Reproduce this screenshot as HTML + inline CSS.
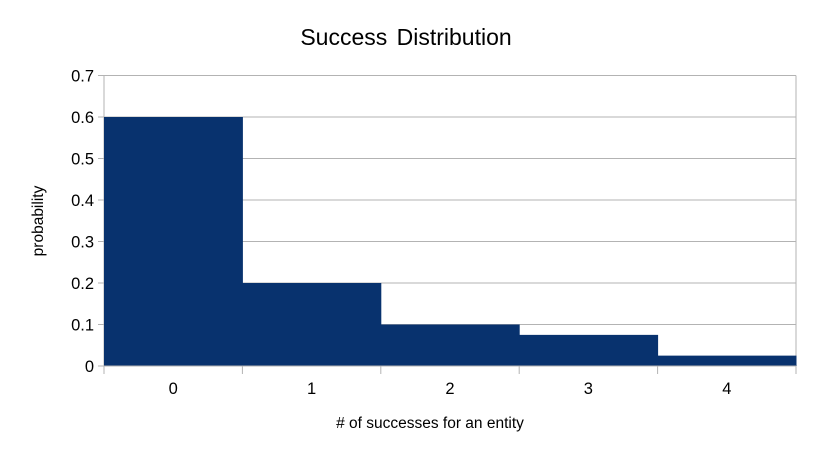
<!DOCTYPE html>
<html><head><meta charset="utf-8"><style>
body{margin:0;background:#fff;width:813px;height:457px;overflow:hidden;font-family:"Liberation Sans",sans-serif}
</style></head><body>
<svg id="chart" width="813" height="457" font-family="Liberation Sans, sans-serif">
<text x="406" y="45" text-anchor="middle" font-size="23" word-spacing="3" fill="#000">Success Distribution</text>
<g id="grid"></g><g id="bars"></g><g id="axes"></g>
<text x="430" y="428" text-anchor="middle" font-size="15.5"># of successes for an entity</text>
<text transform="translate(43,221) rotate(-90)" text-anchor="middle" font-size="15.5">probability</text>
</svg>
<script>
const categories=["0","1","2","3","4"];
const values=[0.6,0.2,0.1,0.075,0.025];
const yTicks=[0,0.1,0.2,0.3,0.4,0.5,0.6,0.7];
const L=104,R=796,T=75.5,B=366,yMax=0.7;
const ns="http://www.w3.org/2000/svg";
const y=v=>B-(v/yMax)*(B-T);
const bw=(R-L)/categories.length;
const x=i=>L+i*bw;
function mk(tag,attrs,parent){const e=document.createElementNS(ns,tag);for(const k in attrs)e.setAttribute(k,attrs[k]);parent.appendChild(e);return e;}
const g=document.getElementById('grid'),b=document.getElementById('bars'),a=document.getElementById('axes');
yTicks.forEach(t=>{
 const l=mk('line',{x1:L-6,x2:R,y1:y(t),y2:y(t),stroke:'#b3b3b3','stroke-width':1},g);
 
 
 const tx=mk('text',{x:L-10,y:y(t)+6,'text-anchor':'end','font-size':16.5},a);
 tx.textContent=String(t);
 
 
});
mk('line',{x1:L,x2:L,y1:T,y2:B,stroke:'#b3b3b3'},g);
mk('line',{x1:R,x2:R,y1:T,y2:B,stroke:'#b3b3b3'},g);
values.forEach((v,i)=>{
 const r=mk('rect',{x:x(i),y:y(v),width:bw+0.5,height:B-y(v),fill:'#08326e'},b);
 
 
 const tx=mk('text',{x:x(i)+bw/2,y:394,'text-anchor':'middle','font-size':16.5},a);
 tx.textContent=categories[i];
 
 
});
for(let i=0;i<=categories.length;i++){
 const l=mk('line',{x1:x(i),x2:x(i),y1:B,y2:B+8,stroke:'#b3b3b3'},a);
 
 
}
mk('line',{x1:L,x2:R,y1:B,y2:B,stroke:'#b3b3b3'},a);
</script>
</body></html>
